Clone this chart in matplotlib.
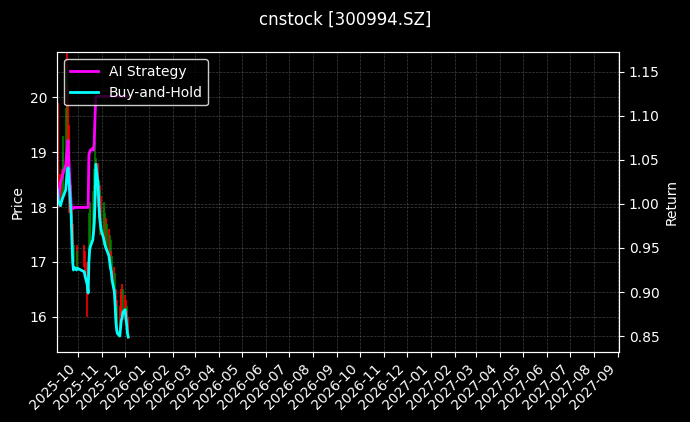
from datetime import datetime

import matplotlib
matplotlib.use("Agg")
from matplotlib import pyplot as plt
import matplotlib.dates as mdates

# trading days shown in the chart
date_strs = [
    "2025-09-04", "2025-09-05", "2025-09-08", "2025-09-09", "2025-09-10",
    "2025-09-11", "2025-09-12", "2025-09-15", "2025-09-16", "2025-09-17",
    "2025-09-18", "2025-09-19", "2025-09-22", "2025-09-23", "2025-09-24",
    "2025-09-25", "2025-09-26", "2025-09-29", "2025-09-30", "2025-10-09",
    "2025-10-10", "2025-10-13", "2025-10-14", "2025-10-15", "2025-10-16",
    "2025-10-17", "2025-10-20", "2025-10-21", "2025-10-22", "2025-10-23",
    "2025-10-24", "2025-10-27", "2025-10-28", "2025-10-29", "2025-10-30",
    "2025-10-31", "2025-11-03", "2025-11-04", "2025-11-05", "2025-11-06",
    "2025-11-07", "2025-11-10", "2025-11-11", "2025-11-12", "2025-11-13",
    "2025-11-14", "2025-11-17", "2025-11-18", "2025-11-19", "2025-11-20",
    "2025-11-21", "2025-11-24", "2025-11-25", "2025-11-26", "2025-11-27",
    "2025-11-28", "2025-12-01", "2025-12-02", "2025-12-03", "2025-12-04",
    "2025-12-05",
]
dates = [datetime.strptime(d, "%Y-%m-%d") for d in date_strs]

# daily low / high prices, and whether the day closed up
lows = [18.1, 18.0, 18.0, 18.0, 18.1, 18.2, 18.3, 18.4, 18.5, 18.6,
        18.5, 17.9, 17.6, 17.3, 17.0, 17.0, 17.0, 16.9, 16.9, 16.9,
        16.8, 16.0, 16.4, 16.8, 17.2, 17.3, 17.4, 17.5, 17.6, 17.8,
        18.2, 18.0, 17.8, 17.6, 17.5, 17.5, 17.4, 17.3, 17.3, 17.2,
        17.2, 17.1, 17.0, 16.9, 16.8, 16.7, 16.5, 16.3, 16.0, 15.9,
        15.8, 15.8, 15.9, 16.0, 16.0, 16.1, 16.1, 15.9, 15.8, 15.7,
        15.6]
highs = [20.0, 19.9, 18.6, 18.5, 18.7, 19.0, 19.3, 19.8, 20.8, 20.5,
         20.2, 19.5, 18.4, 18.0, 17.7, 17.4, 17.3, 17.3, 17.2, 17.3,
         17.2, 17.0, 16.9, 17.9, 18.0, 18.1, 18.3, 18.4, 18.7, 19.2,
         18.9, 18.8, 18.5, 18.4, 18.3, 18.2, 18.1, 18.0, 17.9, 17.8,
         17.7, 17.6, 17.5, 17.4, 17.2, 17.1, 16.9, 16.8, 16.5, 16.3,
         16.2, 16.2, 16.4, 16.5, 16.6, 16.5, 16.4, 16.3, 16.2, 16.1,
         16.0]
up_days = [0, 0, 0, 1, 0, 1, 1, 1, 0, 1,
           0, 0, 0, 0, 0, 0, 1, 0, 1, 0,
           0, 0, 0, 1, 1, 1, 1, 0, 1, 1,
           1, 0, 1, 0, 1, 0, 1, 1, 1, 0,
           1, 0, 1, 1, 0, 1, 0, 1, 0, 0,
           1, 0, 0, 0, 0, 1, 0, 0, 1, 0,
           0]

# cumulative returns
ai_strategy = [1.016, 1.004, 1.024, 1.027, 1.029, 1.033, 1.036, 1.044, 1.055, 1.063,
               1.072, 1.050, 0.999, 0.995, 0.995, 0.995, 0.996, 0.996, 0.996, 0.996,
               0.996, 0.996, 0.996, 1.055, 1.059, 1.061, 1.063, 1.061, 1.072, 1.100,
               1.122, 1.122, 1.122, 1.122, 1.122, 1.122, 1.122, 1.122, 1.122, 1.122,
               1.122, 1.122, 1.122, 1.122, 1.122, 1.122, 1.122, 1.122, 1.122, 1.122,
               1.122, 1.122, 1.122, 1.122, 1.122, 1.122, 1.122, 1.122, 1.122, 1.122,
               1.122]
buy_hold = [1.016, 1.004, 0.998, 1.001, 1.004, 1.007, 1.009, 1.016, 1.027, 1.036,
            1.041, 1.029, 0.987, 0.959, 0.934, 0.925, 0.928, 0.925, 0.927, 0.923,
            0.918, 0.908, 0.899, 0.934, 0.948, 0.952, 0.959, 0.968, 0.979, 1.005,
            1.045, 1.021, 0.999, 0.984, 0.976, 0.970, 0.961, 0.957, 0.953, 0.950,
            0.948, 0.941, 0.934, 0.927, 0.923, 0.914, 0.900, 0.885, 0.866, 0.857,
            0.853, 0.850, 0.859, 0.868, 0.870, 0.877, 0.880, 0.870, 0.863, 0.853,
            0.849]

plt.style.use("dark_background")
fig = plt.figure(dpi=100, figsize=(6.9, 4.22))
ax = fig.add_subplot(111)
fig.subplots_adjust(left=0.083, right=0.897, top=0.876, bottom=0.166)

# high-low bars, red for down days and green for up days
bar_colors = ["green" if u else "red" for u in up_days]
ax.vlines(dates, lows, highs, colors=bar_colors, linewidth=1.5, alpha=0.8)
ax.set_ylabel("Price")
ax.set_ylim(15.36, 20.82)
ax.grid(True, linestyle="--", linewidth=0.5, color="gray", alpha=0.5)

ax.xaxis.set_major_locator(mdates.MonthLocator())
ax.xaxis.set_major_formatter(mdates.DateFormatter("%Y-%m"))
ax.set_xlim(datetime(2025, 9, 4), datetime(2027, 9, 2))
plt.setp(ax.get_xticklabels(), rotation=45, ha="right")

# returns on the second axis
ax2 = ax.twinx()
ax2.plot(dates, ai_strategy, color="magenta", linewidth=2, label="AI Strategy")
ax2.plot(dates, buy_hold, color="cyan", linewidth=2, label="Buy-and-Hold")
ax2.set_ylabel("Return")
ax2.set_ylim(0.832, 1.172)
ax2.grid(True, linestyle="--", linewidth=0.5, color="gray", alpha=0.5)
ax2.legend(loc="upper left", facecolor="black", edgecolor="white")

fig.suptitle("cnstock [300994.SZ]", fontsize=12, y=0.975)

plt.savefig("out.png", dpi=100)
